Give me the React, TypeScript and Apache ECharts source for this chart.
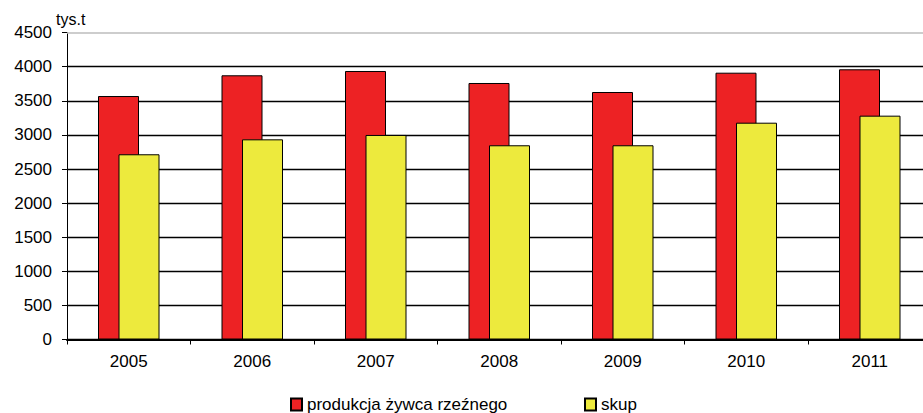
import React, { useEffect, useRef } from "react";
import * as echarts from "echarts";

const years = ["2005", "2006", "2007", "2008", "2009", "2010", "2011"];
const produkcja = [3570, 3874, 3937, 3761, 3629, 3912, 3962];
const skup = [2716, 2935, 2999, 2848, 2848, 3179, 3282];
const seriesNames = ["produkcja żywca rzeźnego", "skup"];
const unitLabel = "tys.t";
const yMax = 4500;

const FONT = "'Liberation Sans', Arial, sans-serif";

export default function App() {
  const ref = useRef<HTMLDivElement>(null);
  useEffect(() => {
    if (!ref.current) return;
    const chart = echarts.init(ref.current, undefined, { renderer: "svg" });
    chart.setOption({
      animation: false,
      backgroundColor: "#fff",
      textStyle: { fontFamily: FONT },
      grid: { left: 67, right: 8.5, top: 32.6, bottom: 73.5, containLabel: false },
      graphic: [
        {
          type: "text",
          left: 56,
          top: 11,
          style: { text: unitLabel, fontSize: 16, fontFamily: FONT, fill: "#000" },
        },
      ],
      legend: [
        {
          data: [seriesNames[0]],
          left: 290,
          top: 396,
          padding: 0,
          itemWidth: 11,
          itemHeight: 12,
          itemGap: 5,
          icon: "rect",
          textStyle: { fontSize: 17, color: "#000", fontFamily: FONT },
        },
        {
          data: [seriesNames[1]],
          left: 584,
          top: 396,
          padding: 0,
          itemWidth: 11,
          itemHeight: 12,
          icon: "rect",
          textStyle: { fontSize: 17, color: "#000", fontFamily: FONT },
        },
      ],
      xAxis: {
        type: "category",
        data: years,
        axisLine: { show: true, lineStyle: { color: "#000", width: 2 } },
        axisTick: { show: true, length: 5, lineStyle: { color: "#000", width: 1 } },
        axisLabel: { color: "#000", fontSize: 17, margin: 13, fontFamily: FONT },
        splitLine: { show: false },
      },
      yAxis: {
        type: "value",
        min: 0,
        max: yMax,
        interval: 500,
        axisLine: { show: true, lineStyle: { color: "#000", width: 1 } },
        axisTick: { show: true, length: 5, lineStyle: { color: "#000", width: 1 } },
        axisLabel: {
          color: "#000",
          fontSize: 17,
          margin: 15,
          fontFamily: FONT,
          formatter: (v: number) => String(v),
        },
        splitLine: {
          show: true,
          showMaxLine: false,
          lineStyle: { color: "#000", width: 1.3 },
        },
      },
      series: [
        {
          name: seriesNames[0],
          type: "bar",
          data: produkcja,
          barWidth: 41,
          barGap: "-50%",
          itemStyle: { color: "#ED2224", borderColor: "#000", borderWidth: 1 },
          markLine: {
            silent: true,
            symbol: "none",
            label: { show: false },
            lineStyle: { color: "#bdbdbd", type: "solid", width: 1.5 },
            data: [{ yAxis: yMax }],
          },
        },
        {
          name: seriesNames[1],
          type: "bar",
          data: skup,
          barWidth: 41,
          barGap: "-50%",
          itemStyle: { color: "#EDEA3D", borderColor: "#000", borderWidth: 1 },
        },
      ],
    });
    return () => chart.dispose();
  }, []);
  return (
    <div
      style={{
        position: "fixed",
        left: 0,
        top: 0,
        width: 923,
        height: 413,
        overflow: "hidden",
        background: "#fff",
      }}
    >
      <div ref={ref} style={{ width: 940, height: 413 }} />
    </div>
  );
}
